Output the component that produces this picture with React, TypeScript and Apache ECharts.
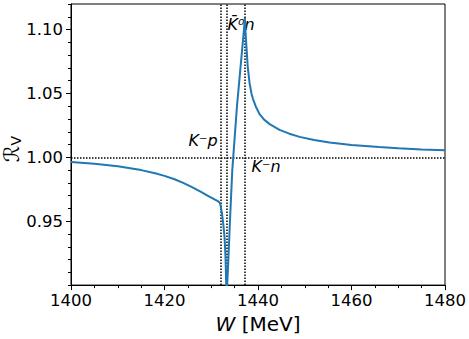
import React, { useEffect, useRef } from "react";
import * as echarts from "echarts";

const W_MEV = [
  1400, 1405, 1410, 1415, 1418, 1420, 1422, 1424, 1426, 1428, 1429, 1430, 1430.5, 1431, 1431.5, 1431.8, 1431.95,
  1432.3, 1432.6, 1432.85, 1433.05, 1433.2, 1433.24,
  1433.3, 1433.4, 1433.6, 1434.0, 1434.5, 1435.0, 1435.5, 1436.0, 1436.5, 1437.0, 1437.18,
  1437.3, 1437.5, 1437.8, 1438.2, 1438.6, 1438.9, 1439.5, 1440.3, 1441.3, 1442.5, 1444.6, 1446.7, 1448.9, 1452, 1455.3, 1460, 1465.9, 1470, 1475, 1480,
];
const R_V = [
  0.9963, 0.995, 0.993, 0.99, 0.9875, 0.9855, 0.983, 0.98, 0.9765, 0.9725, 0.9705, 0.9685, 0.9675, 0.9665, 0.9655, 0.9645, 0.963,
  0.956, 0.947, 0.937, 0.922, 0.9, 0.86,
  0.885, 0.9, 0.915, 0.95, 0.99, 1.015, 1.04, 1.06, 1.08, 1.1, 1.109,
  1.1, 1.088, 1.071, 1.058, 1.05, 1.046, 1.04, 1.034, 1.0295, 1.026, 1.0215, 1.0185, 1.016, 1.0135, 1.0116, 1.0097, 1.008, 1.0071, 1.0062, 1.0056,
];
const THRESHOLDS = [1431.95, 1433.24, 1437.18];
const Y_LABELS = [0.95, 1.0, 1.05, 1.1];

export default function App() {
  const ref = useRef<HTMLDivElement>(null);
  useEffect(() => {
    if (!ref.current) return;
    document.body.style.margin = "0";
    const chart = echarts.init(ref.current, undefined, { renderer: "svg" });
    const font = "DejaVu Sans";
    const data = W_MEV.map((x, i) => [x, R_V[i]]);
    chart.setOption({
      animation: false,
      grid: { left: 71, right: 23, top: 4, bottom: 50, show: true, borderColor: "#000", borderWidth: 1 },
      xAxis: {
        type: "value",
        min: 1400,
        max: 1480,
        interval: 20,
        axisLine: { lineStyle: { color: "#000", width: 1 } },
        axisTick: { length: 5, lineStyle: { color: "#000" } },
        minorTick: { show: true, splitNumber: 4, length: 3, lineStyle: { color: "#000" } },
        splitLine: { show: false },
        axisLabel: { color: "#000", fontSize: 16.5, fontFamily: font, margin: 7, formatter: (v: number) => String(v) },
        name: "{i|W} [MeV]",
        nameLocation: "middle",
        nameGap: 26,
        nameTextStyle: {
          color: "#000",
          fontSize: 20,
          fontFamily: font,
          rich: { i: { fontStyle: "italic", fontSize: 20, fontFamily: font, color: "#000" } },
        },
      },
      yAxis: [
        {
          type: "value",
          min: 0.9,
          max: 1.12,
          position: "left",
          axisLine: { lineStyle: { color: "#000", width: 1 } },
          axisTick: { length: 5, customValues: Y_LABELS, lineStyle: { color: "#000" } },
          splitLine: { show: false },
          axisLabel: {
            color: "#000",
            fontSize: 16.5,
            fontFamily: font,
            margin: 8,
            customValues: Y_LABELS,
            formatter: (v: number) => v.toFixed(2),
          },
        },
        {
          type: "value",
          min: 0.9,
          max: 1.12,
          interval: 0.01,
          position: "left",
          axisLine: { show: false },
          axisTick: { length: 3, lineStyle: { color: "#000" } },
          splitLine: { show: false },
          axisLabel: { show: false },
        },
      ],
      graphic: [
        {
          type: "text",
          x: 12,
          y: 149,
          rotation: Math.PI / 2,
          style: {
            text: "{r|ℛ}{s|V}",
            align: "center",
            verticalAlign: "middle",
            rich: {
              r: { fontSize: 21, fontFamily: font, fill: "#000" },
              s: { fontSize: 14, fontFamily: font, fill: "#000", padding: [8, 0, 0, 0] },
            },
          },
        },
        {
          type: "text",
          x: 203,
          y: 140,
          style: { text: "K⁻p", fontSize: 16, fontFamily: font, fontStyle: "italic", fill: "#000", align: "center", verticalAlign: "middle" },
        },
        {
          type: "text",
          x: 266,
          y: 166,
          style: { text: "K⁻n", fontSize: 16, fontFamily: font, fontStyle: "italic", fill: "#000", align: "center", verticalAlign: "middle" },
        },
        {
          type: "text",
          x: 241,
          y: 24,
          style: { text: "K̄⁰n", fontSize: 16, fontFamily: font, fontStyle: "italic", fill: "#000", align: "center", verticalAlign: "middle" },
        },
      ],
      series: [
        {
          type: "line",
          data,
          xAxisIndex: 0,
          yAxisIndex: 0,
          showSymbol: false,
          symbol: "none",
          clip: true,
          z: 3,
          lineStyle: { color: "#1f77b4", width: 2 },
          markLine: {
            silent: true,
            symbol: "none",
            label: { show: false },
            z: 2,
            lineStyle: { color: "#000", width: 1.5, type: [1.5, 1.5] },
            data: [...THRESHOLDS.map((x) => ({ xAxis: x })), { yAxis: 1.0 }],
          },
        },
      ],
    });
    return () => chart.dispose();
  }, []);
  return <div ref={ref} style={{ position: "absolute", left: 0, top: 0, width: 469, height: 339 }} />;
}
